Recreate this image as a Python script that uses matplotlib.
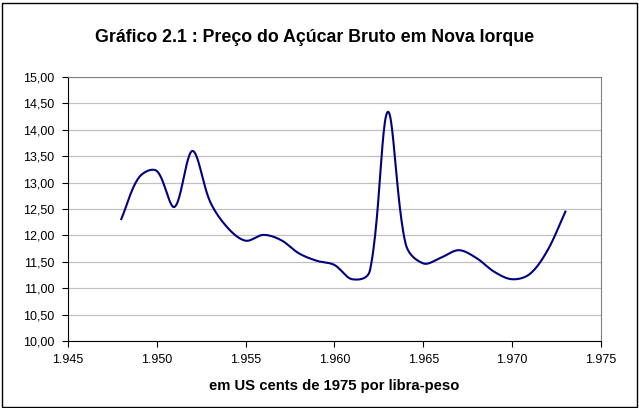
import numpy as np
import matplotlib.pyplot as plt
from matplotlib.ticker import FuncFormatter, MultipleLocator

plt.rcParams['font.family'] = ['Liberation Sans', 'DejaVu Sans']

anos = list(range(1948, 1974))
precos = [12.31, 13.10, 13.22, 12.54, 13.60, 12.64, 12.14, 11.90, 12.01, 11.91,
          11.66, 11.52, 11.44, 11.17, 11.34, 14.34, 11.85, 11.47, 11.58, 11.72,
          11.57, 11.31, 11.17, 11.27, 11.72, 12.45]


def suavizar(x, y, sx=17.77, sy=52.8, n=24):
    # curva suavizada tipo Excel (bezier, controles ponderados pelas cordas)
    x = np.asarray(x, float)
    y = np.asarray(y, float)
    P = np.column_stack([x * sx, y * sy])
    P = np.vstack([P[0], P, P[-1]])
    t = np.linspace(0, 1, n, endpoint=False)[:, None]
    pts = []
    for i in range(1, len(P) - 2):
        p0, p1, p2, p3 = P[i - 1], P[i], P[i + 1], P[i + 2]
        d01 = np.hypot(*(p1 - p0)) ** 0.75
        d12 = np.hypot(*(p2 - p1)) ** 0.75
        d23 = np.hypot(*(p3 - p2)) ** 0.75
        b1 = p1 + (p2 - p0) * (d12 / (d01 + d12)) / 3
        b2 = p2 - (p3 - p1) * (d12 / (d12 + d23)) / 3
        pts.append((1 - t) ** 3 * p1 + 3 * (1 - t) ** 2 * t * b1
                   + 3 * (1 - t) * t ** 2 * b2 + t ** 3 * p2)
    pts.append(P[-2][None, :])
    pts = np.vstack(pts)
    return pts[:, 0] / sx, pts[:, 1] / sy


fig = plt.figure(figsize=(6.39, 4.08), dpi=100)
ax = fig.add_axes([0.1064, 0.1642, 0.834, 0.647])

cx, cy = suavizar(anos, precos)
ax.plot(cx, cy, color='#000080', lw=1.5)

ax.set_xlim(1945, 1975)
ax.set_ylim(10, 15)
ax.xaxis.set_major_locator(MultipleLocator(5))
ax.yaxis.set_major_locator(MultipleLocator(0.5))
ax.xaxis.set_major_formatter(FuncFormatter(lambda v, p: f"{int(v) // 1000}.{int(v) % 1000:03d}"))
ax.yaxis.set_major_formatter(FuncFormatter(lambda v, p: f"{v:.2f}".replace('.', ',')))
ax.tick_params(labelsize=9, direction='out', length=4, width=0.8, color='black')
ax.tick_params(axis='y', pad=6)
ax.tick_params(axis='x', pad=5)
ax.grid(axis='y', color='#c0c0c0', lw=0.9)
ax.set_axisbelow(True)

for s in ('top', 'right'):
    ax.spines[s].set_color('#808080')
for s in ('left', 'bottom'):
    ax.spines[s].set_color('black')

ax.set_xlabel('em US cents de 1975 por libra-peso', fontsize=10.7, fontweight='bold', labelpad=10)
fig.suptitle('Gráfico 2.1 : Preço do Açúcar Bruto em Nova Iorque', fontsize=12.8,
             fontweight='bold', x=0.493, y=0.93)

fig.patches.append(plt.Rectangle((0.003, 0.003), 0.994, 0.99, transform=fig.transFigure,
                                 fill=False, edgecolor='black', lw=1))

plt.savefig('out.png', dpi=100)
